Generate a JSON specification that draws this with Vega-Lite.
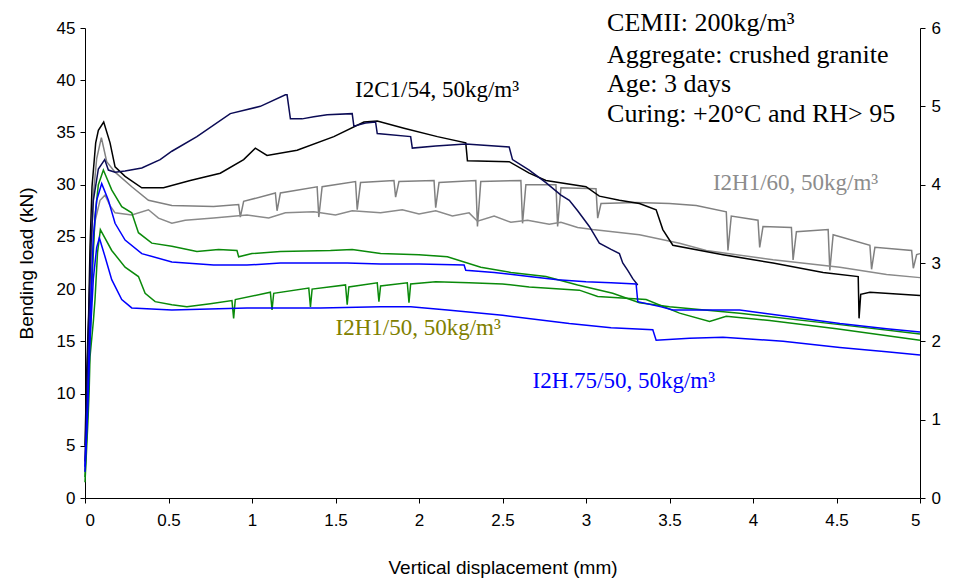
{
"$schema": "https://vega.github.io/schema/vega-lite/v6.json",
"width": 835, "height": 470,
"autosize": {"type": "none"},
"padding": {"left": 85, "top": 28, "right": 37, "bottom": 83},
"background": "white",
"config": {"view": {"stroke": null}, "axis": {"grid": false, "domainColor": "#000", "tickColor": "#000", "labelColor": "#000", "titleColor": "#000", "labelFont": "Liberation Sans", "titleFont": "Liberation Sans", "titleFontWeight": "normal", "labelFontSize": 17, "titleFontSize": 19, "domainWidth": 1, "tickWidth": 1, "tickSize": 5}},
"datasets": {
"curves": [
{"s":"H60a","x":0,"y":3},{"s":"H60a","x":0.015,"y":10},{"s":"H60a","x":0.03,"y":20},{"s":"H60a","x":0.05,"y":29},{"s":"H60a","x":0.07,"y":32.5},{"s":"H60a","x":0.098,"y":34.5},{"s":"H60a","x":0.13,"y":32.2},{"s":"H60a","x":0.18,"y":31.2},{"s":"H60a","x":0.28,"y":29.8},{"s":"H60a","x":0.38,"y":28.5},{"s":"H60a","x":0.52,"y":28.0},{"s":"H60a","x":0.77,"y":27.9},{"s":"H60a","x":0.92,"y":28.1},{"s":"H60a","x":0.93,"y":26.9},{"s":"H60a","x":0.95,"y":28.4},{"s":"H60a","x":1.14,"y":29.2},{"s":"H60a","x":1.15,"y":27.5},{"s":"H60a","x":1.17,"y":29.2},{"s":"H60a","x":1.39,"y":29.8},{"s":"H60a","x":1.4,"y":26.9},{"s":"H60a","x":1.42,"y":29.8},{"s":"H60a","x":1.62,"y":30.3},{"s":"H60a","x":1.63,"y":27.6},{"s":"H60a","x":1.65,"y":30.2},{"s":"H60a","x":1.85,"y":30.4},{"s":"H60a","x":1.86,"y":28.8},{"s":"H60a","x":1.88,"y":30.3},{"s":"H60a","x":2.09,"y":30.4},{"s":"H60a","x":2.1,"y":27.8},{"s":"H60a","x":2.12,"y":30.2},{"s":"H60a","x":2.34,"y":30.4},{"s":"H60a","x":2.35,"y":26.0},{"s":"H60a","x":2.37,"y":30.3},{"s":"H60a","x":2.61,"y":30.4},{"s":"H60a","x":2.62,"y":26.3},{"s":"H60a","x":2.64,"y":30.0},{"s":"H60a","x":2.82,"y":30.0},{"s":"H60a","x":2.83,"y":26.0},{"s":"H60a","x":2.85,"y":29.7},{"s":"H60a","x":3.06,"y":29.6},{"s":"H60a","x":3.07,"y":26.8},{"s":"H60a","x":3.09,"y":28.2},{"s":"H60a","x":3.3,"y":28.3},{"s":"H60a","x":3.5,"y":28.2},{"s":"H60a","x":3.66,"y":28.0},{"s":"H60a","x":3.84,"y":27.4},{"s":"H60a","x":3.85,"y":23.7},{"s":"H60a","x":3.87,"y":27.0},{"s":"H60a","x":4.03,"y":26.6},{"s":"H60a","x":4.04,"y":24.0},{"s":"H60a","x":4.06,"y":26.0},{"s":"H60a","x":4.23,"y":25.9},{"s":"H60a","x":4.24,"y":22.8},{"s":"H60a","x":4.26,"y":25.5},{"s":"H60a","x":4.45,"y":25.7},{"s":"H60a","x":4.46,"y":21.8},{"s":"H60a","x":4.48,"y":25.2},{"s":"H60a","x":4.7,"y":24.2},{"s":"H60a","x":4.71,"y":21.9},{"s":"H60a","x":4.73,"y":24.0},{"s":"H60a","x":4.95,"y":23.7},{"s":"H60a","x":4.96,"y":22.0},{"s":"H60a","x":4.98,"y":23.3},{"s":"H60a","x":5.0,"y":23.4},
{"s":"H60b","x":0,"y":2.5},{"s":"H60b","x":0.02,"y":12},{"s":"H60b","x":0.04,"y":22},{"s":"H60b","x":0.06,"y":26.5},{"s":"H60b","x":0.09,"y":28.5},{"s":"H60b","x":0.12,"y":29.0},{"s":"H60b","x":0.15,"y":28.0},{"s":"H60b","x":0.18,"y":27.3},{"s":"H60b","x":0.28,"y":27.1},{"s":"H60b","x":0.38,"y":27.6},{"s":"H60b","x":0.44,"y":26.8},{"s":"H60b","x":0.52,"y":26.3},{"s":"H60b","x":0.6,"y":26.6},{"s":"H60b","x":0.77,"y":26.8},{"s":"H60b","x":0.97,"y":27.1},{"s":"H60b","x":1.1,"y":26.8},{"s":"H60b","x":1.2,"y":27.3},{"s":"H60b","x":1.37,"y":27.4},{"s":"H60b","x":1.5,"y":27.1},{"s":"H60b","x":1.6,"y":27.5},{"s":"H60b","x":1.77,"y":27.3},{"s":"H60b","x":1.9,"y":27.6},{"s":"H60b","x":2.0,"y":27.2},{"s":"H60b","x":2.1,"y":27.5},{"s":"H60b","x":2.2,"y":27.0},{"s":"H60b","x":2.3,"y":27.3},{"s":"H60b","x":2.35,"y":26.5},{"s":"H60b","x":2.45,"y":27.0},{"s":"H60b","x":2.55,"y":26.4},{"s":"H60b","x":2.65,"y":26.6},{"s":"H60b","x":2.78,"y":26.2},{"s":"H60b","x":2.85,"y":26.4},{"s":"H60b","x":2.95,"y":25.9},{"s":"H60b","x":3.04,"y":25.7},{"s":"H60b","x":3.32,"y":25.2},{"s":"H60b","x":3.56,"y":24.4},{"s":"H60b","x":3.72,"y":23.7},{"s":"H60b","x":4.12,"y":22.8},{"s":"H60b","x":4.52,"y":22.1},{"s":"H60b","x":4.8,"y":21.4},{"s":"H60b","x":5.0,"y":21.1},
{"s":"C1b","x":0,"y":5},{"s":"C1b","x":0.01,"y":12},{"s":"C1b","x":0.022,"y":17.7},{"s":"C1b","x":0.03,"y":24},{"s":"C1b","x":0.042,"y":29.8},{"s":"C1b","x":0.064,"y":34},{"s":"C1b","x":0.08,"y":35.2},{"s":"C1b","x":0.112,"y":36.0},{"s":"C1b","x":0.15,"y":34.0},{"s":"C1b","x":0.18,"y":31.7},{"s":"C1b","x":0.24,"y":30.8},{"s":"C1b","x":0.34,"y":29.7},{"s":"C1b","x":0.47,"y":29.7},{"s":"C1b","x":0.63,"y":30.4},{"s":"C1b","x":0.81,"y":31.1},{"s":"C1b","x":0.95,"y":32.4},{"s":"C1b","x":1.02,"y":33.5},{"s":"C1b","x":1.09,"y":32.8},{"s":"C1b","x":1.27,"y":33.3},{"s":"C1b","x":1.49,"y":34.6},{"s":"C1b","x":1.67,"y":36.0},{"s":"C1b","x":1.75,"y":36.1},{"s":"C1b","x":1.91,"y":35.4},{"s":"C1b","x":2.11,"y":34.6},{"s":"C1b","x":2.28,"y":34.0},{"s":"C1b","x":2.29,"y":32.3},{"s":"C1b","x":2.54,"y":32.2},{"s":"C1b","x":2.66,"y":31.1},{"s":"C1b","x":2.76,"y":30.4},{"s":"C1b","x":3.0,"y":29.8},{"s":"C1b","x":3.08,"y":28.9},{"s":"C1b","x":3.2,"y":28.5},{"s":"C1b","x":3.32,"y":28.2},{"s":"C1b","x":3.42,"y":27.6},{"s":"C1b","x":3.46,"y":25.7},{"s":"C1b","x":3.52,"y":24.2},{"s":"C1b","x":3.82,"y":23.3},{"s":"C1b","x":4.12,"y":22.5},{"s":"C1b","x":4.42,"y":21.6},{"s":"C1b","x":4.63,"y":21.2},{"s":"C1b","x":4.635,"y":17.2},{"s":"C1b","x":4.645,"y":19.5},{"s":"C1b","x":4.7,"y":19.7},{"s":"C1b","x":5.0,"y":19.4},
{"s":"C1a","x":0,"y":3.5},{"s":"C1a","x":0.01,"y":10},{"s":"C1a","x":0.02,"y":16},{"s":"C1a","x":0.035,"y":24},{"s":"C1a","x":0.05,"y":28.5},{"s":"C1a","x":0.08,"y":31.5},{"s":"C1a","x":0.118,"y":32.4},{"s":"C1a","x":0.14,"y":31.4},{"s":"C1a","x":0.18,"y":31.2},{"s":"C1a","x":0.24,"y":31.3},{"s":"C1a","x":0.34,"y":31.6},{"s":"C1a","x":0.45,"y":32.4},{"s":"C1a","x":0.52,"y":33.2},{"s":"C1a","x":0.67,"y":34.6},{"s":"C1a","x":0.87,"y":36.8},{"s":"C1a","x":1.05,"y":37.5},{"s":"C1a","x":1.2,"y":38.6},{"s":"C1a","x":1.21,"y":38.6},{"s":"C1a","x":1.23,"y":36.3},{"s":"C1a","x":1.3,"y":36.3},{"s":"C1a","x":1.37,"y":36.5},{"s":"C1a","x":1.45,"y":36.7},{"s":"C1a","x":1.6,"y":36.8},{"s":"C1a","x":1.61,"y":35.6},{"s":"C1a","x":1.68,"y":35.9},{"s":"C1a","x":1.74,"y":36.0},{"s":"C1a","x":1.75,"y":34.9},{"s":"C1a","x":1.95,"y":34.6},{"s":"C1a","x":1.96,"y":33.5},{"s":"C1a","x":2.1,"y":33.7},{"s":"C1a","x":2.28,"y":33.9},{"s":"C1a","x":2.54,"y":33.6},{"s":"C1a","x":2.56,"y":32.4},{"s":"C1a","x":2.66,"y":31.4},{"s":"C1a","x":2.76,"y":30.2},{"s":"C1a","x":2.85,"y":29.0},{"s":"C1a","x":2.9,"y":28.5},{"s":"C1a","x":2.95,"y":27.5},{"s":"C1a","x":3.02,"y":26.0},{"s":"C1a","x":3.08,"y":24.4},{"s":"C1a","x":3.15,"y":23.8},{"s":"C1a","x":3.2,"y":23.4},{"s":"C1a","x":3.22,"y":22.5},{"s":"C1a","x":3.25,"y":21.8},{"s":"C1a","x":3.28,"y":21.0},{"s":"C1a","x":3.31,"y":20.4},
{"s":"H50a","x":0,"y":2},{"s":"H50a","x":0.02,"y":10},{"s":"H50a","x":0.04,"y":20},{"s":"H50a","x":0.06,"y":27},{"s":"H50a","x":0.08,"y":30},{"s":"H50a","x":0.11,"y":31.4},{"s":"H50a","x":0.16,"y":29.5},{"s":"H50a","x":0.22,"y":27.9},{"s":"H50a","x":0.28,"y":27.3},{"s":"H50a","x":0.32,"y":25.4},{"s":"H50a","x":0.4,"y":24.4},{"s":"H50a","x":0.52,"y":24.1},{"s":"H50a","x":0.67,"y":23.6},{"s":"H50a","x":0.8,"y":23.8},{"s":"H50a","x":0.91,"y":23.7},{"s":"H50a","x":0.92,"y":23.1},{"s":"H50a","x":1.0,"y":23.4},{"s":"H50a","x":1.17,"y":23.6},{"s":"H50a","x":1.47,"y":23.7},{"s":"H50a","x":1.6,"y":23.8},{"s":"H50a","x":1.77,"y":23.4},{"s":"H50a","x":2.0,"y":23.3},{"s":"H50a","x":2.17,"y":23.1},{"s":"H50a","x":2.37,"y":22.1},{"s":"H50a","x":2.55,"y":21.6},{"s":"H50a","x":2.76,"y":21.2},{"s":"H50a","x":2.95,"y":20.4},{"s":"H50a","x":3.16,"y":19.6},{"s":"H50a","x":3.32,"y":18.7},{"s":"H50a","x":3.5,"y":18.3},{"s":"H50a","x":3.92,"y":17.7},{"s":"H50a","x":4.52,"y":16.6},{"s":"H50a","x":5.0,"y":15.7},
{"s":"H50b","x":0,"y":1.5},{"s":"H50b","x":0.018,"y":7.5},{"s":"H50b","x":0.025,"y":10.3},{"s":"H50b","x":0.03,"y":13.5},{"s":"H50b","x":0.05,"y":16.9},{"s":"H50b","x":0.06,"y":19},{"s":"H50b","x":0.075,"y":23.5},{"s":"H50b","x":0.092,"y":25.7},{"s":"H50b","x":0.16,"y":23.7},{"s":"H50b","x":0.24,"y":22.1},{"s":"H50b","x":0.32,"y":21.2},{"s":"H50b","x":0.36,"y":19.6},{"s":"H50b","x":0.42,"y":18.8},{"s":"H50b","x":0.52,"y":18.5},{"s":"H50b","x":0.61,"y":18.3},{"s":"H50b","x":0.75,"y":18.6},{"s":"H50b","x":0.88,"y":18.9},{"s":"H50b","x":0.89,"y":17.2},{"s":"H50b","x":0.9,"y":19.0},{"s":"H50b","x":1.11,"y":19.7},{"s":"H50b","x":1.12,"y":18.0},{"s":"H50b","x":1.13,"y":19.6},{"s":"H50b","x":1.34,"y":20.1},{"s":"H50b","x":1.35,"y":18.3},{"s":"H50b","x":1.36,"y":20.0},{"s":"H50b","x":1.56,"y":20.4},{"s":"H50b","x":1.57,"y":18.5},{"s":"H50b","x":1.58,"y":20.2},{"s":"H50b","x":1.75,"y":20.6},{"s":"H50b","x":1.76,"y":18.8},{"s":"H50b","x":1.77,"y":20.3},{"s":"H50b","x":1.93,"y":20.6},{"s":"H50b","x":1.94,"y":18.7},{"s":"H50b","x":1.95,"y":20.5},{"s":"H50b","x":2.1,"y":20.7},{"s":"H50b","x":2.3,"y":20.6},{"s":"H50b","x":2.5,"y":20.5},{"s":"H50b","x":2.66,"y":20.2},{"s":"H50b","x":2.96,"y":19.9},{"s":"H50b","x":3.07,"y":19.3},{"s":"H50b","x":3.36,"y":19.0},{"s":"H50b","x":3.56,"y":17.7},{"s":"H50b","x":3.74,"y":16.9},{"s":"H50b","x":3.84,"y":17.4},{"s":"H50b","x":4.1,"y":17.0},{"s":"H50b","x":4.5,"y":16.2},{"s":"H50b","x":5.0,"y":15.1},
{"s":"H75a","x":0,"y":3},{"s":"H75a","x":0.015,"y":9},{"s":"H75a","x":0.03,"y":17},{"s":"H75a","x":0.05,"y":25},{"s":"H75a","x":0.07,"y":28.5},{"s":"H75a","x":0.1,"y":30.1},{"s":"H75a","x":0.14,"y":28.5},{"s":"H75a","x":0.18,"y":26.3},{"s":"H75a","x":0.24,"y":24.7},{"s":"H75a","x":0.34,"y":23.4},{"s":"H75a","x":0.52,"y":22.6},{"s":"H75a","x":0.77,"y":22.3},{"s":"H75a","x":0.97,"y":22.3},{"s":"H75a","x":1.17,"y":22.5},{"s":"H75a","x":1.57,"y":22.5},{"s":"H75a","x":1.77,"y":22.4},{"s":"H75a","x":2.0,"y":22.4},{"s":"H75a","x":2.27,"y":22.3},{"s":"H75a","x":2.28,"y":21.8},{"s":"H75a","x":2.45,"y":21.6},{"s":"H75a","x":2.66,"y":21.2},{"s":"H75a","x":2.83,"y":20.9},{"s":"H75a","x":3.0,"y":20.7},{"s":"H75a","x":3.15,"y":20.6},{"s":"H75a","x":3.3,"y":20.5},{"s":"H75a","x":3.31,"y":18.8},{"s":"H75a","x":3.45,"y":18.3},{"s":"H75a","x":3.52,"y":18.0},{"s":"H75a","x":3.92,"y":18.0},{"s":"H75a","x":4.2,"y":17.4},{"s":"H75a","x":4.52,"y":16.7},{"s":"H75a","x":4.8,"y":16.2},{"s":"H75a","x":5.0,"y":15.9},
{"s":"H75b","x":0,"y":2.5},{"s":"H75b","x":0.015,"y":8},{"s":"H75b","x":0.03,"y":15},{"s":"H75b","x":0.05,"y":21},{"s":"H75b","x":0.07,"y":24},{"s":"H75b","x":0.086,"y":24.9},{"s":"H75b","x":0.12,"y":23.1},{"s":"H75b","x":0.16,"y":20.9},{"s":"H75b","x":0.22,"y":19.0},{"s":"H75b","x":0.28,"y":18.2},{"s":"H75b","x":0.52,"y":18.0},{"s":"H75b","x":0.97,"y":18.2},{"s":"H75b","x":1.41,"y":18.2},{"s":"H75b","x":1.77,"y":18.3},{"s":"H75b","x":1.95,"y":18.3},{"s":"H75b","x":2.17,"y":18.0},{"s":"H75b","x":2.5,"y":17.5},{"s":"H75b","x":2.9,"y":16.7},{"s":"H75b","x":3.15,"y":16.3},{"s":"H75b","x":3.4,"y":16.1},{"s":"H75b","x":3.42,"y":15.1},{"s":"H75b","x":3.62,"y":15.3},{"s":"H75b","x":3.82,"y":15.4},{"s":"H75b","x":4.0,"y":15.2},{"s":"H75b","x":4.18,"y":15.0},{"s":"H75b","x":4.52,"y":14.4},{"s":"H75b","x":4.8,"y":14.0},{"s":"H75b","x":5.0,"y":13.7}
],
"labels": [
{"t":"I2C1/54, 50kg/m³","g":"C1","x":1.617,"y":38.4},
{"t":"I2H1/60, 50kg/m³","g":"H60","x":3.76,"y":29.5},
{"t":"I2H1/50, 50kg/m³","g":"H50","x":1.5,"y":15.6},
{"t":"I2H.75/50, 50kg/m³","g":"H75","x":2.68,"y":10.5}
],
"notes": [
{"t":"CEMII: 200kg/m³","x":3.126,"y":44.7},
{"t":"Aggregate: crushed granite","x":3.126,"y":41.65},
{"t":"Age: 3 days","x":3.126,"y":38.85},
{"t":"Curing: +20°C and RH> 95","x":3.126,"y":36.0}
]
},
"layer": [
{
"data": {"name": "curves"},
"mark": {"type": "line", "strokeWidth": 1.5},
"encoding": {
"x": {"field": "x", "type": "quantitative", "title": "Vertical displacement (mm)", "scale": {"domain": [0, 5], "nice": false, "zero": false}, "axis": {"values": [0, 0.5, 1, 1.5, 2, 2.5, 3, 3.5, 4, 4.5, 5], "format": "~g", "labelPadding": 9, "titlePadding": 30}},
"y": {"field": "y", "type": "quantitative", "title": "Bending load (kN)", "scale": {"domain": [0, 45], "nice": false}, "axis": {"values": [0, 5, 10, 15, 20, 25, 30, 35, 40, 45], "labelPadding": 5, "titlePadding": 20}},
"color": {"field": "s", "type": "nominal", "legend": null, "scale": {"domain": ["H60a", "H60b", "C1b", "C1a", "H50a", "H50b", "H75a", "H75b"], "range": ["#808080", "#8a8a8a", "#000000", "#0b0b55", "#0a8a0a", "#0a8a0a", "#0000ff", "#0000ff"]}},
"order": {"value": null}
}
},
{
"data": {"name": "labels"},
"mark": {"type": "text", "font": "Liberation Serif", "fontSize": 23, "align": "left", "baseline": "alphabetic"},
"encoding": {
"x": {"field": "x", "type": "quantitative", "title": "Vertical displacement (mm)", "scale": {"domain": [0, 5], "nice": false, "zero": false}},
"y": {"field": "y", "type": "quantitative", "title": null, "scale": {"domain": [0, 45], "nice": false}, "axis": {"orient": "right", "values": [0, 7.5, 15, 22.5, 30, 37.5, 45], "labelExpr": "'' + (datum.value / 7.5)", "labelPadding": 6, "title": null}},
"text": {"field": "t"},
"color": {"field": "g", "type": "nominal", "legend": null, "scale": {"domain": ["C1", "H60", "H50", "H75"], "range": ["#000000", "#8c8c8c", "#808000", "#0000ff"]}}
}
},
{
"data": {"name": "notes"},
"mark": {"type": "text", "font": "Liberation Serif", "fontSize": 26, "align": "left", "baseline": "alphabetic", "color": "#000000"},
"encoding": {
"x": {"field": "x", "type": "quantitative", "title": "Vertical displacement (mm)", "scale": {"domain": [0, 5], "nice": false, "zero": false}},
"y": {"field": "y", "type": "quantitative", "scale": {"domain": [0, 45], "nice": false}, "axis": null},
"text": {"field": "t"}
}
}
],
"resolve": {"scale": {"y": "independent", "color": "independent"}}
}
